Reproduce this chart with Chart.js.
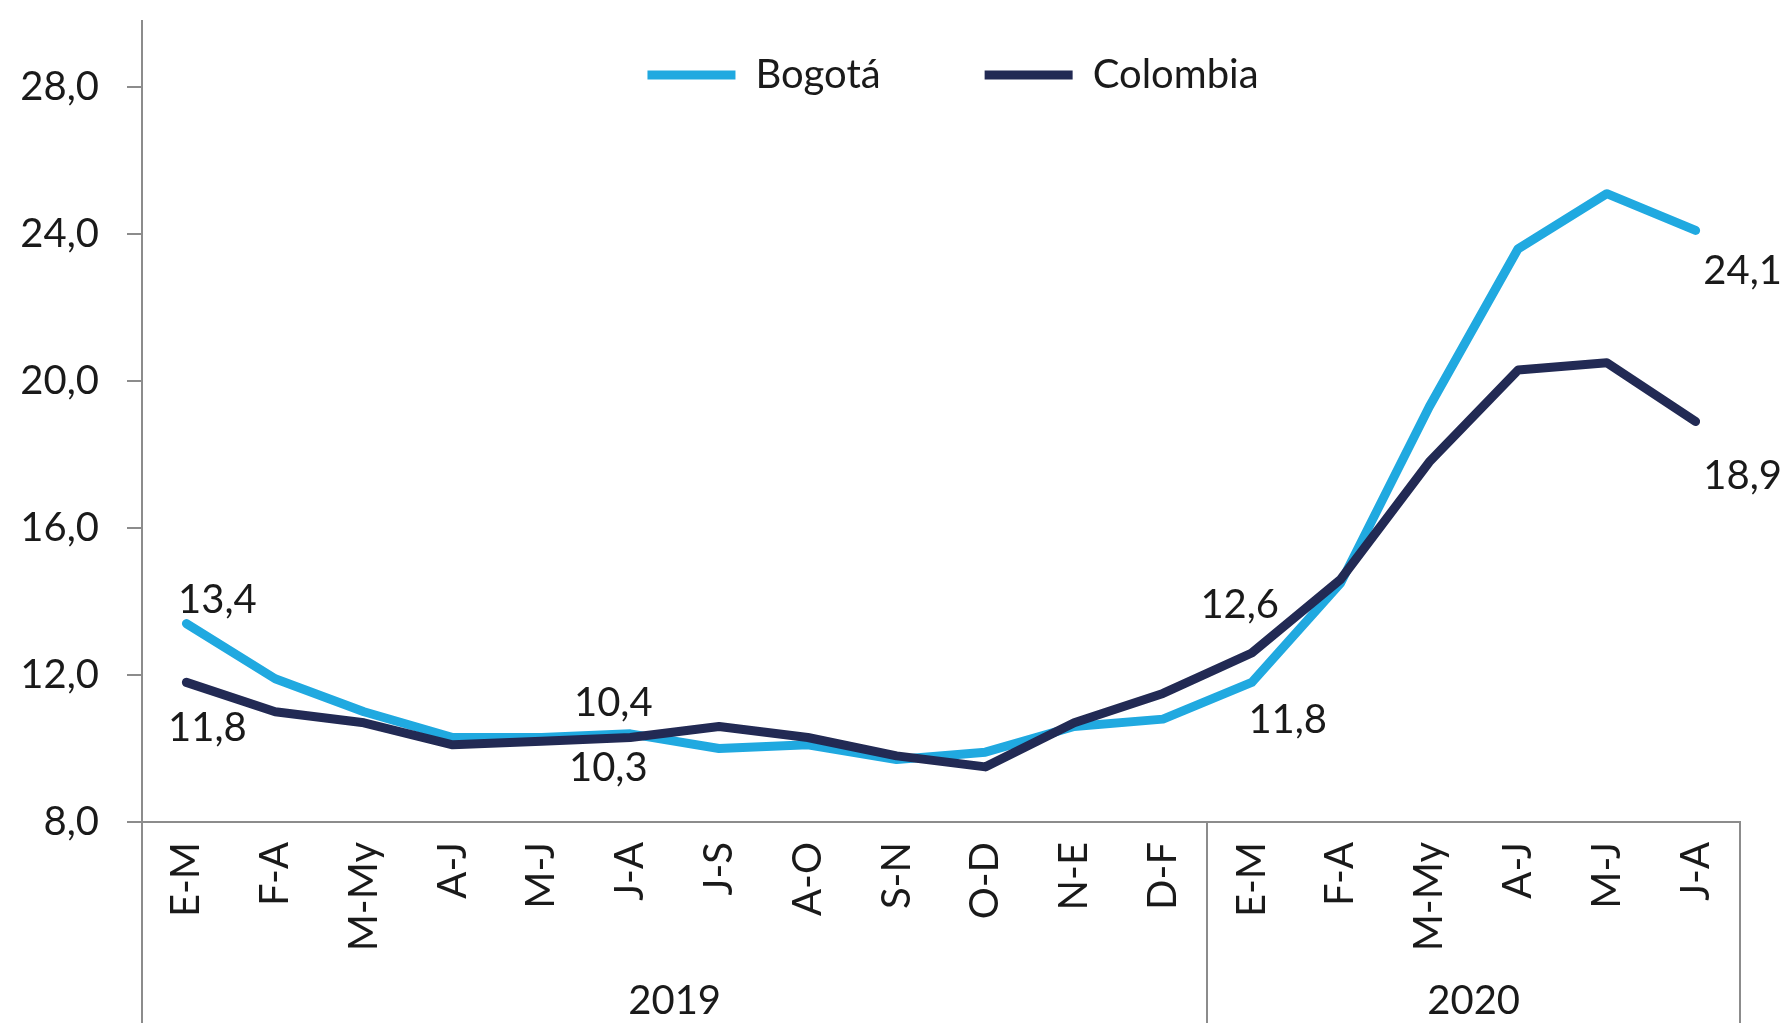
<!DOCTYPE html>
<html>
<head>
<meta charset="utf-8">
<script src="https://cdn.jsdelivr.net/npm/chart.js@4.4.1/dist/chart.umd.min.js"></script>
<style>
html, body { margin: 0; padding: 0; background: #fff; }
#wrap { width: 1784px; height: 1023px; position: relative; }
</style>
</head>
<body>
<div id="wrap"><canvas id="lineChart"></canvas></div>
<script>
// data
var categories = ['E-M', 'F-A', 'M-My', 'A-J', 'M-J', 'J-A', 'J-S', 'A-O', 'S-N', 'O-D', 'N-E', 'D-F',
                  'E-M', 'F-A', 'M-My', 'A-J', 'M-J', 'J-A'];
var years = ['2019', '2020'];
var yearLengths = [12, 6];
var bogota = [13.4, 11.9, 11.0, 10.3, 10.3, 10.4, 10.0, 10.1, 9.7, 9.9, 10.6, 10.8,
              11.8, 14.5, 19.3, 23.6, 25.1, 24.1];
var colombia = [11.8, 11.0, 10.7, 10.1, 10.2, 10.3, 10.6, 10.3, 9.8, 9.5, 10.7, 11.5,
                12.6, 14.6, 17.8, 20.3, 20.5, 18.9];
var yTicks = [8, 12, 16, 20, 24, 28];

// which points carry a value label, and where the label sits from the point
var valueLabels = [
  { ds: 0, i: 0, dx: 31, dy: -23 },
  { ds: 1, i: 0, dx: 21, dy: 46 },
  { ds: 0, i: 5, dx: -17, dy: -31 },
  { ds: 1, i: 5, dx: -22, dy: 31 },
  { ds: 1, i: 12, dx: -12, dy: -48 },
  { ds: 0, i: 12, dx: 36, dy: 38 },
  { ds: 0, i: 17, dx: 47, dy: 41 },
  { ds: 1, i: 17, dx: 47, dy: 55 }
];

var textColor = '#1a1a1a';
var axisGray = '#8c8c8c';
var fontSize = 40;
var legendCenterY = 75;
var legendShiftX = 12;

// year edges and centres on the category axis
var yearEdges = [0];
var yearCenters = [];
yearLengths.forEach(function (n) {
  var start = yearEdges[yearEdges.length - 1];
  yearCenters.push(start + n / 2);
  yearEdges.push(start + n);
});

function fmt(v) {
  return Number(v).toFixed(1).replace('.', ',');
}

Chart.defaults.font.family = 'Lato';
Chart.defaults.font.size = fontSize;
Chart.defaults.color = textColor;

// legend sits inside the plot area, like the original
var floatLegend = {
  id: 'floatLegend',
  beforeLayout: function (chart) {
    var lg = chart.legend;
    if (lg && !lg.floatPatched) {
      var fit = lg.fit;
      lg.fit = function () {
        fit.call(this);
        this.fullHeight = this.height;
        this.height = 0;
      };
      lg.floatPatched = true;
    }
  },
  afterLayout: function (chart) {
    var lg = chart.legend;
    var pad = lg.options.labels.padding;
    lg.top = legendCenterY - pad - fontSize / 2;
    lg.height = lg.fullHeight;
    lg.bottom = lg.top + lg.fullHeight;
    lg.left += legendShiftX;
    lg.right += legendShiftX;
  }
};

var pointLabels = {
  id: 'pointLabels',
  afterDatasetsDraw: function (chart) {
    var ctx = chart.ctx;
    ctx.save();
    ctx.font = fontSize + 'px Lato';
    ctx.fillStyle = textColor;
    ctx.textAlign = 'center';
    ctx.textBaseline = 'middle';
    valueLabels.forEach(function (l) {
      var pt = chart.getDatasetMeta(l.ds).data[l.i];
      var v = chart.data.datasets[l.ds].data[l.i];
      ctx.fillText(fmt(v), pt.x + l.dx, pt.y + l.dy);
    });
    ctx.restore();
  }
};

var ctxL = document.getElementById('lineChart').getContext('2d');
var myLineChart = new Chart(ctxL, {
  type: 'line',
  data: {
    labels: categories,
    datasets: [{
      label: 'Bogotá',
      data: bogota,
      borderColor: '#20a9e0',
      backgroundColor: '#20a9e0',
      borderWidth: 9,
      borderCapStyle: 'round',
      borderJoinStyle: 'round',
      pointRadius: 0,
      pointHoverRadius: 0,
      tension: 0,
      fill: false,
      order: 2
    }, {
      label: 'Colombia',
      data: colombia,
      borderColor: '#222a54',
      backgroundColor: '#222a54',
      borderWidth: 9,
      borderCapStyle: 'round',
      borderJoinStyle: 'round',
      pointRadius: 0,
      pointHoverRadius: 0,
      tension: 0,
      fill: false,
      order: 1
    }]
  },
  options: {
    responsive: true,
    maintainAspectRatio: false,
    animation: false,
    layout: { padding: { left: 0, top: 21, right: 44, bottom: 0 } },
    plugins: {
      tooltip: { enabled: false },
      legend: {
        position: 'top',
        fullSize: false,
        labels: {
          usePointStyle: true,
          pointStyle: 'line',
          pointStyleWidth: 88,
          padding: 104,
          color: textColor,
          font: { size: fontSize },
          sort: function (a, b) { return a.datasetIndex - b.datasetIndex; }
        }
      }
    },
    scales: {
      x: {
        type: 'category',
        position: 'bottom',
        weight: 0,
        offset: true,
        grid: {
          display: true,
          offset: true,
          drawOnChartArea: false,
          drawTicks: true,
          tickLength: 201,
          lineWidth: 2,
          color: function (c) {
            if (c.type !== 'tick') return axisGray;
            return yearEdges.indexOf(c.index) >= 0 ? axisGray : 'rgba(0,0,0,0)';
          }
        },
        border: { display: true, color: axisGray, width: 2 },
        ticks: {
          autoSkip: false,
          minRotation: 90,
          maxRotation: 90,
          padding: -181,
          color: textColor
        },
        afterFit: function (s) { s.height = 140; }
      },
      x2: {
        type: 'linear',
        position: 'bottom',
        weight: 1,
        min: 0,
        max: categories.length,
        bounds: 'data',
        grid: { display: false },
        border: { display: false },
        afterBuildTicks: function (s) {
          s.ticks = yearCenters.map(function (v) { return { value: v }; });
        },
        ticks: {
          autoSkip: false,
          maxRotation: 0,
          minRotation: 0,
          padding: 7,
          color: textColor,
          callback: function (v) { return years[yearCenters.indexOf(v)]; }
        },
        afterFit: function (s) { s.height = 61; }
      },
      y: {
        min: 8,
        max: 29.8,
        bounds: 'data',
        afterBuildTicks: function (s) {
          s.ticks = yTicks.map(function (v) { return { value: v }; });
        },
        grid: {
          drawOnChartArea: false,
          drawTicks: true,
          tickLength: 15,
          lineWidth: 2,
          color: axisGray
        },
        border: { display: true, color: axisGray, width: 2 },
        ticks: {
          padding: 28,
          color: textColor,
          callback: function (v) { return fmt(v); }
        },
        afterFit: function (s) {
          s.width = 142;
          s.paddingTop = 0;
          s.paddingBottom = 0;
        }
      }
    }
  },
  plugins: [floatLegend, pointLabels]
});
</script>
</body>
</html>
